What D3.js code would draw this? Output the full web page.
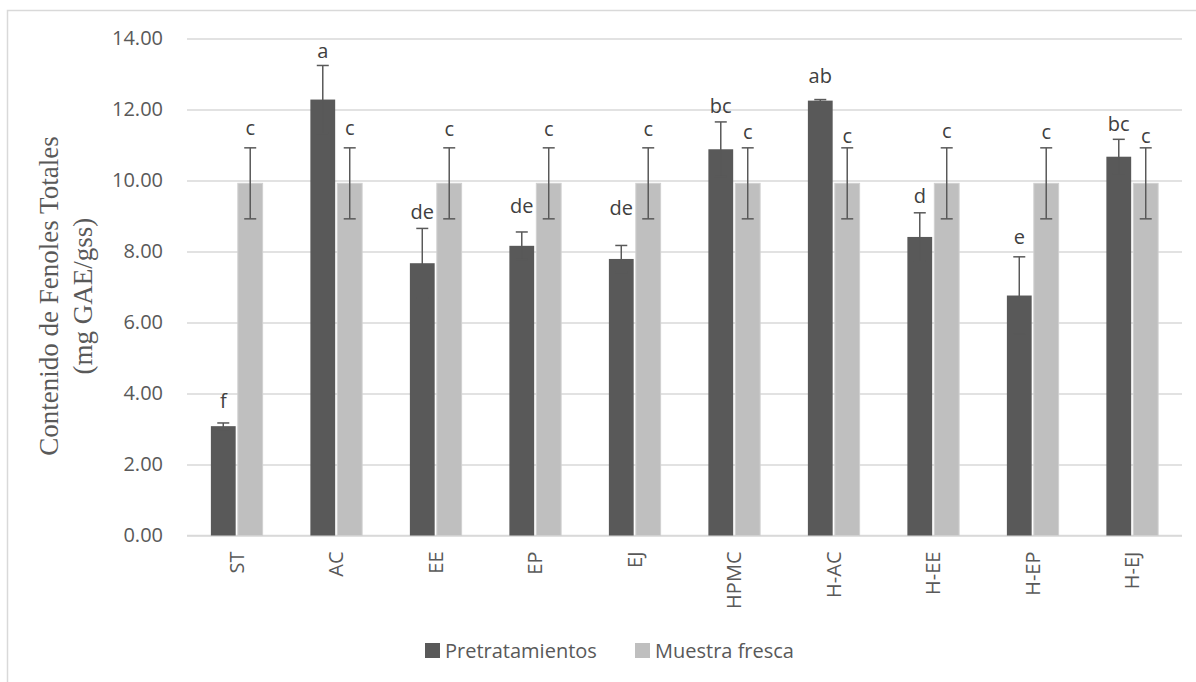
<!DOCTYPE html>
<html>
<head>
<meta charset="utf-8">
<script src="https://cdn.jsdelivr.net/npm/d3@7"></script>
<style>
  html, body { margin: 0; padding: 0; background: #ffffff; }
  svg { display: block; }
</style>
</head>
<body>
<svg id="chart" width="1196" height="682"></svg>
<script>
// ---- data ----
const categories = ["ST", "AC", "EE", "EP", "EJ", "HPMC", "H-AC", "H-EE", "H-EP", "H-EJ"];
const seriesNames = ["Pretratamientos", "Muestra fresca"];
const pretratamientos = [3.08, 12.28, 7.67, 8.16, 7.79, 10.88, 12.25, 8.41, 6.76, 10.67];
const pretratamientosErr = [0.09, 0.96, 0.98, 0.39, 0.38, 0.77, 0.03, 0.68, 1.09, 0.49];
const muestraFresca = [9.92, 9.92, 9.92, 9.92, 9.92, 9.92, 9.92, 9.92, 9.92, 9.92];
const muestraFrescaErr = [1.0, 1.0, 1.0, 1.0, 1.0, 1.0, 1.0, 1.0, 1.0, 1.0];
const letrasPre = ["f", "a", "de", "de", "de", "bc", "ab", "d", "e", "bc"];
const letrasFresca = ["c", "c", "c", "c", "c", "c", "c", "c", "c", "c"];
const yTicks = [0, 2, 4, 6, 8, 10, 12, 14];

// ---- layout / style (not data) ----
const preLabelGap = [15, 7, 9, 19, 30, 9, 17, 10, 13, 8];
const frescaLabelGap = [13, 13, 12, 12, 12, 9, 5, 10, 9, 5];
const colors = ["#595959", "#bfbfbf"];
const textColor = "#595959";
const sans = "'Open Sans', 'Liberation Sans', sans-serif";
const serif = "'Liberation Serif', 'DejaVu Serif', serif";

const svg = d3.select("#chart");
const plotLeft = 187, plotRight = 1182, plotTop = 38.5, plotBottom = 535.5;

// outer chart border
svg.append("rect")
  .attr("x", 7.5).attr("y", 10.5)
  .attr("width", 1220).attr("height", 700)
  .attr("fill", "none").attr("stroke", "#d9d9d9").attr("stroke-width", 1.5);

const y = d3.scaleLinear().domain([0, 14]).range([plotBottom, plotTop]);
const x0 = d3.scaleBand().domain(categories).range([plotLeft, plotRight])
  .paddingInner(0.48).paddingOuter(0.24);
const x1 = d3.scaleBand().domain(seriesNames).range([0, x0.bandwidth()]).paddingInner(0.08);

// gridlines
const yAxis = d3.axisLeft(y).tickValues(yTicks).tickFormat(d3.format(".2f"))
  .tickSize(-(plotRight - plotLeft)).tickPadding(24);
const gy = svg.append("g").attr("transform", `translate(${plotLeft},0)`).call(yAxis);
gy.select(".domain").remove();
gy.selectAll(".tick line").attr("stroke", "#d9d9d9").attr("stroke-width", 1.5);
gy.selectAll(".tick text")
  .attr("fill", textColor).style("font-family", sans).style("font-size", "20px");

// x axis
const xAxis = d3.axisBottom(x0).tickSize(0).tickPadding(0);
const gx = svg.append("g").attr("transform", `translate(0,${plotBottom})`).call(xAxis);
gx.select(".domain").attr("stroke", "#d9d9d9").attr("stroke-width", 1.5)
  .attr("d", `M${plotLeft},0H${plotRight}`);
gx.selectAll(".tick text")
  .attr("fill", textColor).style("font-family", sans).style("font-size", "20px")
  .attr("text-anchor", "end")
  .attr("transform", "rotate(-90)")
  .attr("x", -16).attr("y", 0).attr("dy", "0.35em");

// bars
const series = [
  { name: seriesNames[0], values: pretratamientos, errs: pretratamientosErr, letters: letrasPre, gaps: preLabelGap, color: colors[0] },
  { name: seriesNames[1], values: muestraFresca, errs: muestraFrescaErr, letters: letrasFresca, gaps: frescaLabelGap, color: colors[1] }
];

series.forEach((s, si) => {
  const g = svg.append("g");
  const bw = x1.bandwidth();
  categories.forEach((c, i) => {
    const bx = x0(c) + x1(s.name);
    const v = s.values[i];
    g.append("rect")
      .attr("x", bx).attr("y", y(v))
      .attr("width", bw).attr("height", y(0) - y(v))
      .attr("fill", s.color)
      .attr("stroke", si === 1 ? "#d0d0d0" : "none")
      .attr("stroke-width", si === 1 ? 1 : 0);
  });
});

// error bars and letters on top
series.forEach((s) => {
  const g = svg.append("g");
  const bw = x1.bandwidth();
  categories.forEach((c, i) => {
    const cx = x0(c) + x1(s.name) + bw / 2;
    const v = s.values[i], e = s.errs[i];
    const yt = y(v + e), yb = y(v - e);
    g.append("line").attr("x1", cx).attr("x2", cx).attr("y1", yt).attr("y2", yb)
      .attr("stroke", "#595959").attr("stroke-width", 1.5);
    [yt, yb].forEach(yy => {
      g.append("line").attr("x1", cx - 6).attr("x2", cx + 6).attr("y1", yy).attr("y2", yy)
        .attr("stroke", "#595959").attr("stroke-width", 1.5);
    });
    g.append("text")
      .attr("x", cx).attr("y", yt - s.gaps[i])
      .attr("text-anchor", "middle")
      .attr("fill", "#404040")
      .style("font-family", sans).style("font-size", "20px")
      .text(s.letters[i]);
  });
});

// y axis title
const title = svg.append("text")
  .attr("transform", "translate(0,296) rotate(-90)")
  .attr("text-anchor", "middle")
  .attr("fill", textColor)
  .style("font-family", serif).style("font-size", "27px");
title.append("tspan").attr("x", 0).attr("y", 58).text("Contenido de Fenoles Totales");
title.append("tspan").attr("x", 0).attr("y", 92).text("(mg GAE/gss)");

// legend
const legend = svg.append("g");
const legendX = [425, 635];
series.forEach((s, i) => {
  legend.append("rect")
    .attr("x", legendX[i]).attr("y", 643)
    .attr("width", 15).attr("height", 15)
    .attr("fill", s.color);
  legend.append("text")
    .attr("x", legendX[i] + 20).attr("y", 658)
    .attr("fill", textColor)
    .style("font-family", sans).style("font-size", "20px")
    .text(s.name);
});
</script>
</body>
</html>
